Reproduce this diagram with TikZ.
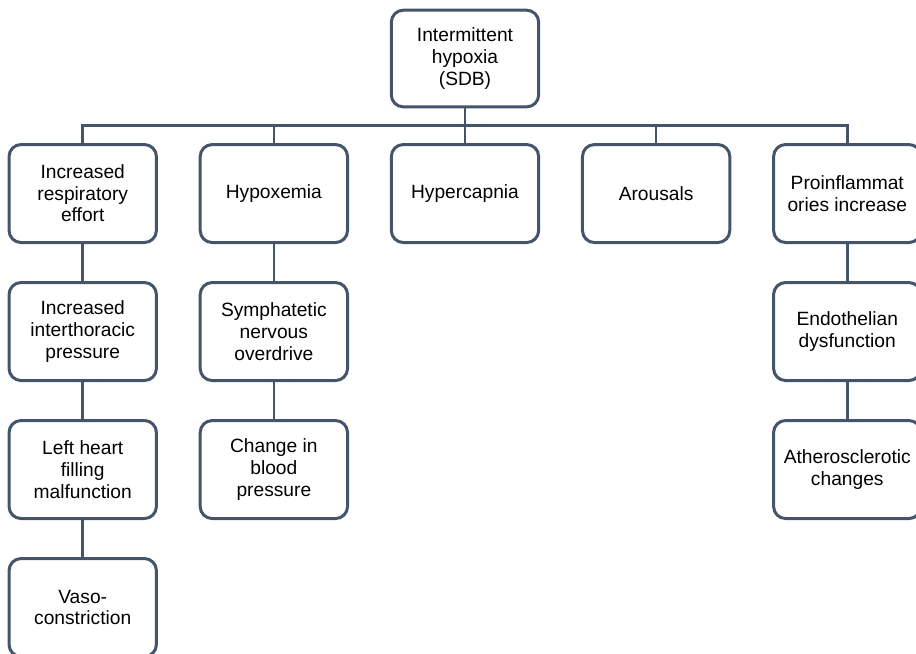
\documentclass[tikz,border=0pt]{standalone}
\usepackage{fontspec}
\setmainfont{Liberation Sans}
\usetikzlibrary{positioning}
\definecolor{boxline}{RGB}{68,84,106}

\begin{document}
\begin{tikzpicture}[node distance=27.75pt and 30.6pt,line width=1.9pt,
            draw=boxline]
        \tikzstyle{box}=[draw=boxline,line width=2.25pt,rounded corners=9pt,
            minimum width=110.5pt,minimum height=73.5pt,inner sep=2pt,
            align=center,text=black,font=\fontsize{14.4pt}{16.2pt}\selectfont]

        \useasboundingbox (-348.75pt,43.9pt) rectangle (338.25pt,-445.9pt);

        \node[box,minimum height=72.5pt] (0) {Intermittent\\hypoxia\\(SDB)};
        \node[box] (3) [below=26pt of 0] {Hypercapnia};
        \node[box] (2) [left=of 3] {Hypoxemia};
        \node[box] (1) [left=of 2] {Increased\\respiratory\\effort};
        \node[box] (4) [right=of 3] {Arousals};
        \node[box] (5) [right=of 4] {Proinflammat\\ories increase};

        \node[box] (11) [below=of 1] {Increased\\interthoracic\\pressure};
        \node[box] (12) [below=of 11] {Left heart\\filling\\malfunction};
        \node[box] (13) [below=of 12] {Vaso-\\constriction};
        \node[box] (21) [below=of 2] {Symphatetic\\nervous\\overdrive};
        \node[box] (22) [below=of 21] {Change in\\blood\\pressure};
        \node[box] (51) [below=of 5] {Endothelian\\dysfunction};
        \node[box] (52) [below=of 51] {Atherosclerotic\\changes};

        \foreach \n in {1,...,5}
            \draw[boxline] (0.south) -- ++(0,-13pt) -| (\n.north);

        \path[draw=boxline]
            (1) edge (11)
            (11) edge (12)
            (12) edge (13)
            (2) edge (21)
            (21) edge (22)
            (5) edge (51)
            (51) edge (52);

\end{tikzpicture}
\end{document}
